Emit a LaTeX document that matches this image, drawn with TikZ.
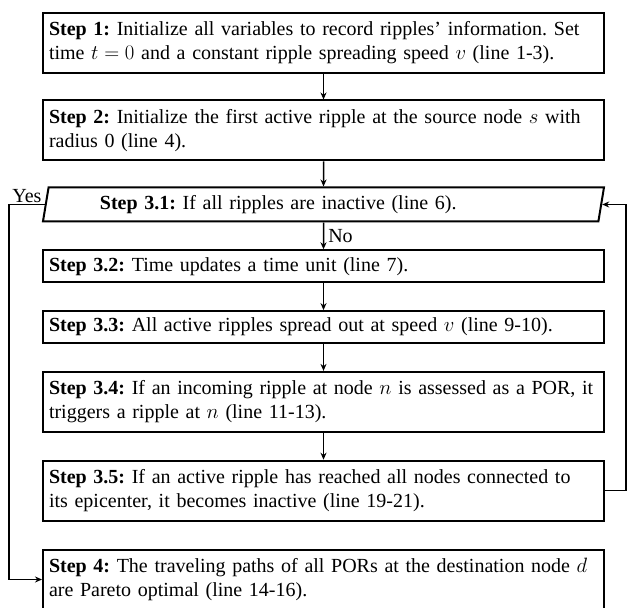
\documentclass[tikz,border=0pt]{standalone}
\usepackage{fontspec}
\setmainfont{Liberation Serif}
\usetikzlibrary{positioning,shapes.geometric,arrows.meta}

\tikzset{
  stepbox/.style={draw, line width=2pt, text width=549pt, inner xsep=6pt,
    inner ysep=0pt, align=left, minimum height=60pt},
  onebox/.style={stepbox, minimum height=32pt},
  testbox/.style={draw, line width=2pt, trapezium, trapezium left angle=73,
    trapezium right angle=107, trapezium stretches body, minimum width=561pt,
    minimum height=34pt, inner sep=0pt, text width=447pt, align=left},
  arr/.style={line width=1.5pt, -{Stealth[length=7pt,width=6pt]}},
}

\begin{document}
\frenchspacing
\begin{tikzpicture}[x=1pt,y=1pt,font=\fontsize{20}{24}\selectfont,
    node distance=26.8pt]
  \useasboundingbox (0,0) rectangle (628,607);
  \clip (0,0) rectangle (628,607);

  \node[stepbox, anchor=north] (s1) at (323.5,595) {\textbf{Step 1:}
    Initialize all variables to record ripples’ information. Set\\
    time $t = 0$ and a constant ripple spreading speed $v$ (line 1-3).};
  \node[stepbox, below=25.5pt of s1] (s2) {\textbf{Step 2:} Initialize the
    first active ripple at the source node $s$ with\\ radius 0 (line 4).};
  \node[testbox, below=25pt of s2] (s31) {\textbf{Step 3.1:} If all ripples
    are inactive (line 6).};
  \node[onebox, below=of s31] (s32) {\textbf{Step 3.2:} Time updates a time
    unit (line 7).};
  \node[onebox, below=of s32] (s33) {\textbf{Step 3.3:} All active ripples
    spread out at speed $v$ (line 9-10).};
  \node[stepbox, below=of s33] (s34) {\textbf{Step 3.4:} If an incoming
    ripple at node $n$ is assessed as a POR, it\\ triggers a ripple at $n$
    (line 11-13).};
  \node[stepbox, below=of s34] (s35) {\textbf{Step 3.5:} If an active ripple
    has reached all nodes connected to\\ its epicenter, it becomes inactive
    (line 19-21).};
  \node[stepbox, below=of s35] (s4) {\textbf{Step 4:} The traveling paths of
    all PORs at the destination node $d$\\ are Pareto optimal (line 14-16).};

  % main flow
  \draw[arr] (s1) -- (s2);
  \draw[arr] (s2) -- (s31);
  \draw[arr] (s31) -- node[right, inner sep=4pt] {No} (s32);
  \draw[arr] (s32) -- (s33);
  \draw[arr] (s33) -- (s34);
  \draw[arr] (s34) -- (s35);

  % loops
  \coordinate (lft) at (9,0);
  \coordinate (rgt) at (626,0);
  \draw[arr] (s31.left side) -- node[above, inner sep=1pt] {Yes}
    (s31.left side -| lft) |- (s4.west);
  \draw[arr] (s35.east) -- (s35.east -| rgt) |- (s31.right side);
\end{tikzpicture}
\end{document}
